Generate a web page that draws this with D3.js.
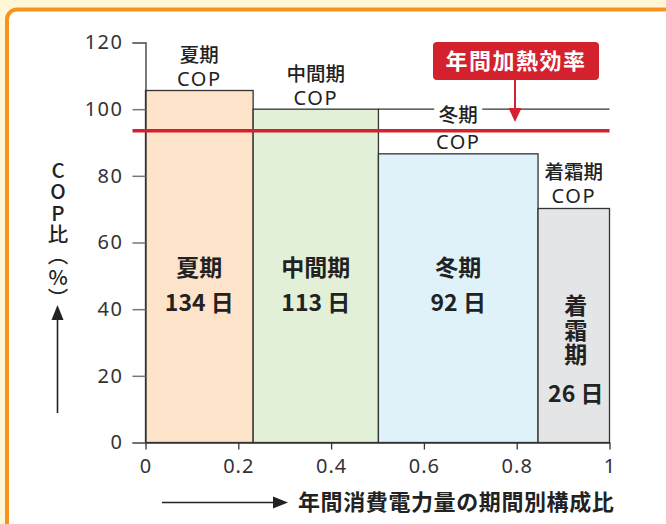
<!DOCTYPE html>
<html><head><meta charset="utf-8">
<script src="https://cdn.jsdelivr.net/npm/d3@7"></script>
<style>
html,body{margin:0;padding:0;background:#FFF7D6;}
svg{display:block;}
text{font-family:"Noto Sans CJK JP","Noto Sans",sans-serif;}
</style></head>
<body>
<script>
// ---- data ----
const periods = ["夏期", "中間期", "冬期", "着霜期"];
const shares = [0.232, 0.270, 0.344, 0.154];      // 年間消費電力量の期間別構成比
const copValues = [105.6, 100, 86.6, 70.2];        // COP比 (%)
const days = [134, 113, 92, 26];
const annualEfficiency = 93.5;
const yTicks = [0, 20, 40, 60, 80, 100, 120];
const xTicks = [0, 0.2, 0.4, 0.6, 0.8, 1];
const barColors = ["#FDE3C9", "#E2F0D7", "#DFF2FA", "#E4E5E7"];

const W = 666, H = 524;
const svg = d3.select("body").append("svg").attr("width", W).attr("height", H);

// panel
svg.append("rect").attr("x", 7).attr("y", 9.5).attr("width", 720).attr("height", 600)
  .attr("rx", 10).attr("fill", "#fff").attr("stroke", "#F7931E").attr("stroke-width", 4);

const x = d3.scaleLinear().domain([0, 1]).range([145.5, 609.5]);
const y = d3.scaleLinear().domain([0, 120]).range([442.5, 42.5]);

// bars
let cum = 0;
const bars = shares.map((s, i) => { const b = {x0: cum, x1: cum + s, v: copValues[i], i}; cum += s; return b; });

svg.append("g").selectAll("rect").data(bars).join("rect")
  .attr("x", d => x(d.x0)).attr("width", d => x(d.x1) - x(d.x0))
  .attr("y", d => y(d.v)).attr("height", d => y(0) - y(d.v))
  .attr("fill", d => barColors[d.i]).attr("stroke", "#333").attr("stroke-width", 1.3);

// 100 reference line to the right
svg.append("line").attr("x1", x(bars[1].x1)).attr("x2", x(1))
  .attr("y1", y(100)).attr("y2", y(100)).attr("stroke", "#333").attr("stroke-width", 1.2);

// axes
const yAxis = svg.append("g").attr("transform", `translate(${x(0)},0)`)
  .call(d3.axisLeft(y).tickValues(yTicks).tickSize(13).tickPadding(9).tickFormat(d3.format("d")));
yAxis.select(".domain").attr("stroke", "#333").attr("stroke-width", 1.3);
yAxis.selectAll(".tick line").attr("stroke", "#777").attr("stroke-width", 1.5);
yAxis.selectAll(".tick text").attr("font-size", 20).attr("fill", "#333").attr("letter-spacing", 1.5)
  .style("font-family", "'Noto Sans',sans-serif");

const xAxis = svg.append("g").attr("transform", `translate(0,${y(0)})`)
  .call(d3.axisBottom(x).tickValues(xTicks).tickSize(7).tickSizeOuter(0).tickPadding(9).tickFormat(d => d === 0 || d === 1 ? String(d) : d3.format(".1f")(d)));
xAxis.select(".domain").attr("stroke", "#333").attr("stroke-width", 1.3);
xAxis.selectAll(".tick line").attr("stroke", "#333").attr("stroke-width", 1.3);
xAxis.selectAll(".tick text").attr("font-size", 20).attr("fill", "#333").attr("letter-spacing", 1)
  .style("font-family", "'Noto Sans',sans-serif");

// annual efficiency red line
svg.append("line").attr("x1", x(0) - 13).attr("x2", x(1))
  .attr("y1", y(annualEfficiency)).attr("y2", y(annualEfficiency))
  .attr("stroke", "#D3222D").attr("stroke-width", 3.5);

// COP labels above bars (one text element per label, two lines)
const copLabelPos = [
  {y0: 56, gap: 24},
  {y0: 75, gap: 24},
  {y0: 116, gap: 27},
  {y0: 173, gap: 24}
];
copLabelPos.forEach((p, i) => {
  const cx = x((bars[i].x0 + bars[i].x1) / 2);
  if (i === 2) {
    svg.append("rect").attr("x", cx - 24).attr("y", 105).attr("width", 48).attr("height", 22).attr("fill", "#fff");
  }
  const t = svg.append("text").attr("x", cx).attr("y", p.y0).attr("dy", "0.36em")
    .attr("text-anchor", "middle").attr("fill", "#222");
  t.append("tspan").attr("x", cx).attr("font-size", 19.5).attr("font-weight", 500).text(periods[i]);
  t.append("tspan").attr("x", cx).attr("dy", p.gap).attr("font-size", 20).attr("letter-spacing", 1.5)
    .style("font-family", "'Noto Sans',sans-serif").text("COP");
});

// in-bar labels
bars.forEach((b, i) => {
  const cx = x((b.x0 + b.x1) / 2);
  if (i < 3) {
    svg.append("text").attr("x", cx).attr("y", 268).attr("dy", "0.36em").attr("text-anchor", "middle")
      .attr("font-size", 23).attr("font-weight", 700).attr("fill", "#222").text(periods[i]);
    svg.append("text").attr("x", cx).attr("y", 303).attr("dy", "0.36em").attr("text-anchor", "middle")
      .attr("font-size", 23).attr("font-weight", 700).attr("fill", "#222").text(days[i] + " 日");
  } else {
    svg.append("text").attr("x", cx + 2).attr("y", 294)
      .style("writing-mode", "vertical-rl").style("text-orientation", "upright")
      .attr("font-size", 23).attr("font-weight", 700).attr("fill", "#222").attr("letter-spacing", 1.5)
      .text(periods[i]);
    svg.append("text").attr("x", cx + 2).attr("y", 394).attr("dy", "0.36em").attr("text-anchor", "middle")
      .attr("font-size", 23).attr("font-weight", 700).attr("fill", "#222").text(days[i] + " 日");
  }
});

// annotation box
svg.append("rect").attr("x", 433).attr("y", 42).attr("width", 166).attr("height", 38).attr("rx", 4).attr("fill", "#D3222D");
svg.append("text").attr("x", 516).attr("y", 61).attr("dy", "0.36em").attr("text-anchor", "middle")
  .attr("font-size", 22).attr("font-weight", 700).attr("fill", "#fff").attr("letter-spacing", 1.5).text("年間加熱効率");
svg.append("line").attr("x1", 515).attr("x2", 515).attr("y1", 80).attr("y2", 110).attr("stroke", "#D3222D").attr("stroke-width", 2);
svg.append("path").attr("d", "M508.5,108 L521.5,108 L515,122 Z").attr("fill", "#D3222D");

// y title (vertical writing)
svg.append("text").attr("x", 58).attr("y", 160)
  .style("writing-mode", "vertical-rl").style("text-orientation", "upright")
  .attr("font-size", 20.5).attr("font-weight", 500).attr("fill", "#222").attr("letter-spacing", 0.8)
  .text("COP比（%）");
svg.append("line").attr("x1", 57.5).attr("x2", 57.5).attr("y1", 413).attr("y2", 318).attr("stroke", "#222").attr("stroke-width", 1.6);
svg.append("path").attr("d", "M51.5,320 L63.5,320 L57.5,305 Z").attr("fill", "#222");

// x title
svg.append("line").attr("x1", 162).attr("x2", 275).attr("y1", 502.5).attr("y2", 502.5).attr("stroke", "#222").attr("stroke-width", 1.6);
svg.append("path").attr("d", "M273,496.5 L273,508.5 L288,502.5 Z").attr("fill", "#222");
svg.append("text").attr("x", 298).attr("y", 502).attr("dy", "0.36em").attr("font-size", 22)
  .attr("letter-spacing", 0.6)
  .attr("font-weight", 700).attr("fill", "#222").text("年間消費電力量の期間別構成比");
</script>
</body></html>
